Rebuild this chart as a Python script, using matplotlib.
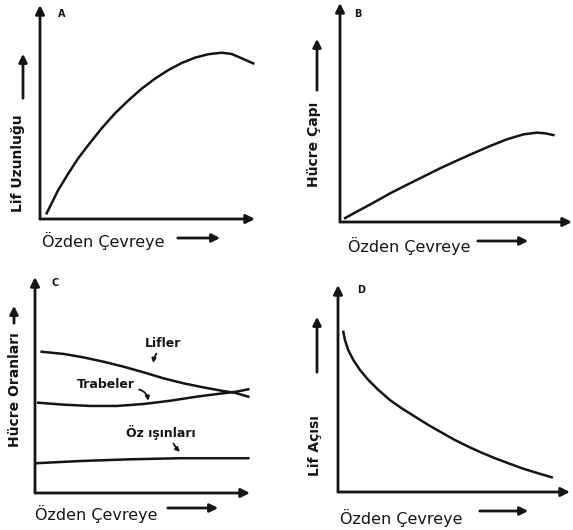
import numpy as np
import matplotlib.pyplot as plt
from matplotlib.patches import FancyArrowPatch

# values, x and y both in % of the axis length
a_x = [3.1, 5.4, 8.5, 13.2, 17.8, 22.5, 28.7, 34.9, 41.1, 47.3, 53.5, 59.7, 65.9, 72.1, 78.3, 84.5, 89.2, 93.8, 99.2]
a_y = [2.7, 7.3, 13.6, 21.3, 28.4, 34.6, 42.4, 49.4, 55.4, 60.9, 65.6, 69.6, 72.9, 75.4, 77.0, 77.7, 77.1, 75.1, 72.7]

b_x = [2.2, 7.2, 14.4, 21.6, 28.7, 35.9, 43.1, 50.3, 57.5, 64.7, 71.8, 79.0, 84.8, 88.4, 92.0]
b_y = [1.8, 4.7, 8.8, 13.1, 16.9, 20.7, 24.5, 28.0, 31.4, 34.7, 37.7, 40.0, 40.8, 40.5, 39.7]

lif_x = [3.1, 13.2, 22.5, 31.8, 41.1, 50.4, 59.7, 69.0, 78.3, 87.6, 93.0, 99.2]
lifler = [65.4, 64.4, 62.8, 60.8, 58.5, 55.9, 53.1, 50.8, 48.9, 47.2, 46.4, 44.6]
tra_x = [1.5, 13.2, 25.6, 38.0, 50.4, 62.8, 75.2, 84.5, 93.0, 99.2]
trabeler = [41.8, 40.9, 40.3, 40.3, 41.2, 42.7, 44.6, 45.8, 46.8, 48.0]
oz_x = [0.8, 20.9, 44.2, 67.4, 99.2]
oz_isinlari = [13.8, 14.8, 15.6, 16.1, 16.1]

d_x = [2.3, 3.0, 4.4, 6.6, 9.5, 13.1, 17.4, 22.4, 27.5, 33.2, 38.9, 44.7, 50.4, 56.2, 61.9, 67.7, 73.4, 79.2, 84.9, 92.1]
d_y = [77.4, 73.4, 68.6, 63.8, 58.9, 54.1, 49.3, 44.4, 40.4, 36.4, 32.4, 28.7, 25.1, 21.9, 19.0, 16.3, 13.9, 11.5, 9.5, 7.1]

W, H = 573, 530
INK = "#151515"

fig = plt.figure(figsize=(W / 100, H / 100), dpi=100)


def fx(x):
    return x / W


def fy(y):
    return 1 - y / H


def panel(left, bottom, right, top, letter, letter_xy):
    # axes from the origin up to the arrow tips, in picture pixels
    ax = fig.add_axes([fx(left), fy(bottom), (right - left) / W, (bottom - top) / H])
    ax.set_xlim(0, 100)
    ax.set_ylim(0, 100)
    ax.axis("off")
    for tip in [(1, 0), (0, 1)]:
        ax.annotate("", xy=tip, xytext=(0, 0), xycoords="axes fraction",
                    arrowprops=dict(arrowstyle="-|>", color=INK, lw=2,
                                    mutation_scale=13, shrinkA=0, shrinkB=0))
    fig.text(fx(letter_xy[0]), fy(letter_xy[1]), letter, fontsize=7,
             fontweight="bold", ha="center", va="center", color=INK)
    return ax


def side_arrow(x0, y0, x1, y1):
    fig.add_artist(FancyArrowPatch(
        (fx(x0), fy(y0)), (fx(x1), fy(y1)), transform=fig.transFigure,
        arrowstyle="-|>", color=INK, lw=2, mutation_scale=12))


def xlabel(x, y, arrow_x0, arrow_x1, arrow_y):
    fig.text(fx(x), fy(y), "Özden Çevreye", fontsize=11.5, ha="left",
             va="center", color=INK)
    side_arrow(arrow_x0, arrow_y, arrow_x1, arrow_y)


def ylabel(x, y, text, arrow_x, arrow_y0, arrow_y1):
    fig.text(fx(x), fy(y), text, fontsize=10, fontweight="bold", rotation=90,
             ha="center", va="center", color=INK)
    side_arrow(arrow_x, arrow_y0, arrow_x, arrow_y1)


# A
ax = panel(40, 219, 255, 5, "A", (62, 14))
ax.plot(a_x, a_y, color=INK, lw=1.8)
ylabel(18, 163, "Lif Uzunluğu", 23, 101, 51)
xlabel(42, 241, 175, 223, 238)

# B
ax = panel(340, 222, 572, 3, "B", (358, 14))
ax.plot(b_x, b_y, color=INK, lw=1.8)
ylabel(314, 144, "Hücre Çapı", 317, 93, 36)
xlabel(348, 246, 475, 531, 241)

# C
ax = panel(35, 493, 250, 277, "C", (55, 283))
ax.plot(lif_x, lifler, color=INK, lw=1.8)
ax.plot(tra_x, trabeler, color=INK, lw=1.8)
ax.plot(oz_x, oz_isinlari, color=INK, lw=1.8)
lead = dict(arrowstyle="-|>", color=INK, lw=1.3, mutation_scale=6,
            shrinkA=1, shrinkB=0)
ax.annotate("Lifler", xy=(55.0, 60.2), xytext=(59.5, 69.4), fontsize=9,
            fontweight="bold", ha="center", va="center", color=INK,
            arrowprops=dict(lead, connectionstyle="arc3,rad=0.15",
                            relpos=(0.4, 0)))
ax.annotate("Trabeler", xy=(52.7, 42.7), xytext=(33.0, 50.0), fontsize=9,
            fontweight="bold", ha="center", va="center", color=INK,
            arrowprops=dict(lead, connectionstyle="arc3,rad=-0.4",
                            relpos=(1, 0.2)))
ax.annotate("Öz ışınları", xy=(67.4, 19.1), xytext=(58.6, 28.2), fontsize=9,
            fontweight="bold", ha="center", va="center", color=INK,
            arrowprops=dict(lead, connectionstyle="arc3,rad=0.1",
                            relpos=(0.65, 0)))
ylabel(15, 390, "Hücre Oranları", 14, 326, 303)
xlabel(35, 514, 165, 221, 508)

# D
ax = panel(338, 492, 570, 285, "D", (361, 290))
ax.plot(d_x, d_y, color=INK, lw=1.8)
ylabel(315, 446, "Lif Açısı", 317, 375, 314)
xlabel(340, 518, 477, 531, 511)

fig.savefig("out.png", dpi=100, facecolor="white")
